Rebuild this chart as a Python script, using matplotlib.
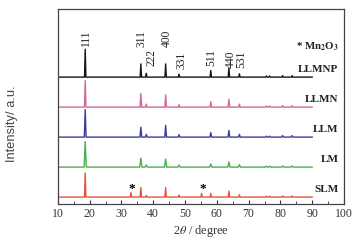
import matplotlib
matplotlib.use('Agg')
import matplotlib.pyplot as plt

plt.rcParams['font.family'] = 'Liberation Serif'
plt.rcParams['mathtext.fontset'] = 'stix'

# peak positions (2theta, degree) of the spinel reflections
peaks = [18.6, 36.1, 37.8, 43.9, 48.1, 58.1, 63.8, 67.1, 75.6, 76.6, 80.7, 83.7]
hkl = ['111', '311', '222', '400', '331', '511', '440', '531']
hkl_x = [18.9, 36.4, 39.3, 44.3, 48.9, 58.4, 64.3, 67.6]
hkl_y = [5.29, 5.27, 4.65, 5.30, 4.55, 4.65, 4.58, 4.60]

samples = ['SLM', 'LM', 'LLM', 'LLMN', 'LLMNP']
colors = ['#e4553c', '#4caf4f', '#3a3f9c', '#d5689a', '#151515']
heights = {
    'SLM':   [0.80, 0.32, 0.06, 0.32, 0.07, 0.12, 0.20, 0.08, 0.03, 0.03, 0.04, 0.04],
    'LM':    [0.85, 0.30, 0.07, 0.27, 0.07, 0.10, 0.17, 0.08, 0.03, 0.03, 0.04, 0.04],
    'LLM':   [0.92, 0.33, 0.09, 0.39, 0.08, 0.15, 0.22, 0.09, 0.03, 0.03, 0.05, 0.05],
    'LLMN':  [0.88, 0.45, 0.10, 0.41, 0.08, 0.18, 0.26, 0.10, 0.04, 0.04, 0.05, 0.05],
    'LLMNP': [0.93, 0.44, 0.13, 0.44, 0.10, 0.22, 0.30, 0.11, 0.04, 0.04, 0.05, 0.05],
}
widths = {'SLM': 0.22, 'LM': 0.35, 'LLM': 0.28, 'LLMN': 0.25, 'LLMNP': 0.22}
# Mn2O3 impurity peaks, only in SLM
mn_peaks = [33.0, 55.2]
mn_heights = [0.15, 0.12]


def profile(pos, hts, w):
    pts = sorted(zip(pos, hts))
    xs, ys = [10], [0]
    for p, h in pts:
        xs += [p - w, p, p + w]
        ys += [0, h, 0]
    xs.append(90)
    ys.append(0)
    return xs, ys


fig = plt.figure(figsize=(3.64, 2.44), dpi=100)
ax = fig.add_axes([0.159, 0.164, 0.786, 0.799])

for i, (name, c) in enumerate(zip(samples, colors)):
    pos = list(peaks)
    hts = list(heights[name])
    if name == 'SLM':
        pos += mn_peaks
        hts += mn_heights
    xs, ys = profile(pos, hts, widths[name])
    ax.plot(xs, [y + i for y in ys], color=c, lw=1.0)
    ax.text(98.3, i + 0.26, name, ha='right', va='center', fontsize=8,
            fontweight='bold', color='#222222')

for x in mn_peaks:
    ax.text(x + 0.3, 0.27, '*', ha='center', va='center', fontsize=9.5,
            fontweight='bold')

for lab, x, y in zip(hkl, hkl_x, hkl_y):
    ax.text(x, y, lab, rotation=90, ha='center', va='center', fontsize=8.3,
            color='#222222')

ax.text(98.5, 5.0, '* Mn$_\\mathbf{2}$O$_\\mathbf{3}$', ha='right', va='center',
        fontsize=7.8, fontweight='bold', color='#222222')

ax.set_xlim(10, 100)
ax.set_ylim(-0.23, 6.27)
ax.set_xticks(range(10, 101, 10))
ax.set_xticks(range(15, 100, 10), minor=True)
ax.set_yticks([])
ax.tick_params(axis='x', which='both', direction='in', labelsize=8.5,
               colors='#333333', pad=3)
ax.tick_params(axis='x', which='major', length=3)
ax.tick_params(axis='x', which='minor', length=2)
for s in ax.spines.values():
    s.set_color('#444444')
    s.set_linewidth(0.9)

ax.set_xlabel('2$\\theta$ / degree', fontsize=8.8, color='#333333', labelpad=2)
ax.set_ylabel('Intensity/ a.u.', fontsize=9.3, color='#444444',
              family='Liberation Sans')
ax.yaxis.set_label_coords(-0.14, 0.41)

fig.savefig('out.png', dpi=100)
